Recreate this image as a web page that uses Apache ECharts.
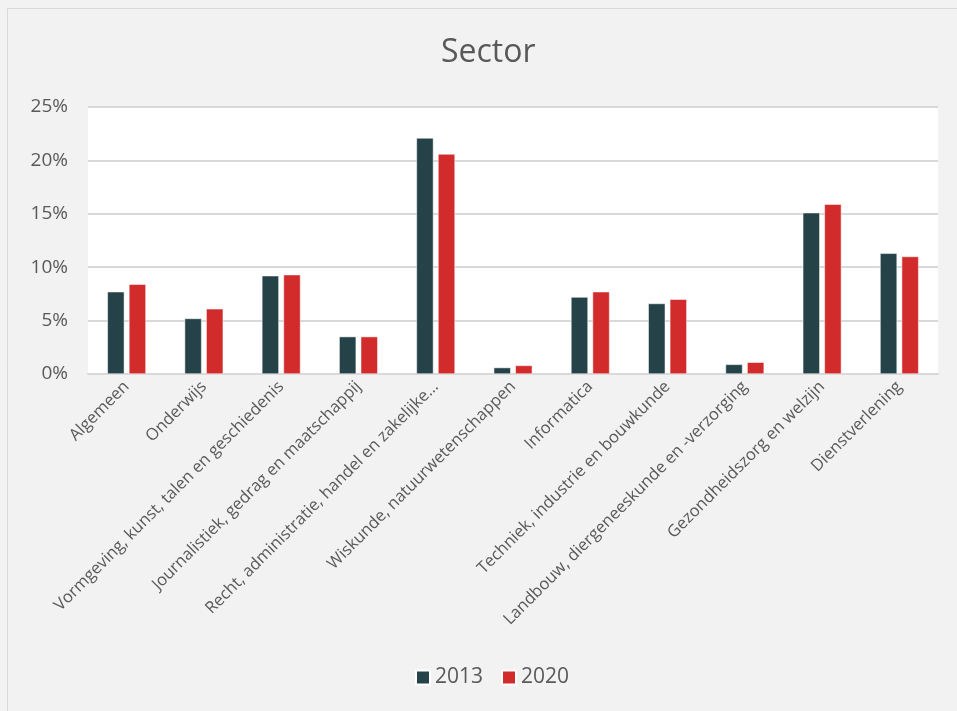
<!DOCTYPE html>
<html>
<head>
<meta charset="UTF-8">
<title>Sector</title>
<style>
  html, body { margin: 0; padding: 0; background: #f2f2f2; }
  #chart { width: 957px; height: 711px; }
</style>
</head>
<body>
<div id="chart"></div>
<script src="https://cdn.jsdelivr.net/npm/echarts@6/dist/echarts.min.js"></script>
<script>
var categories = ['Algemeen', 'Onderwijs', 'Vormgeving, kunst, talen en geschiedenis',
  'Journalistiek, gedrag en maatschappij', 'Recht, administratie, handel en zakelijke…',
  'Wiskunde, natuurwetenschappen', 'Informatica', 'Techniek, industrie en bouwkunde',
  'Landbouw, diergeneeskunde en -verzorging', 'Gezondheidszorg en welzijn', 'Dienstverlening'];
var values2013 = [7.7, 5.2, 9.2, 3.5, 22.1, 0.6, 7.2, 6.6, 0.9, 15.1, 11.3];
var values2020 = [8.4, 6.1, 9.3, 3.5, 20.6, 0.8, 7.7, 7.0, 1.1, 15.9, 11.0];
var yTicks = [0, 5, 10, 15, 20, 25];

var textColor = '#595959';
var font = 'Open Sans';

var chart = echarts.init(document.getElementById('chart'));
chart.setOption({
  backgroundColor: '#f2f2f2',
  textStyle: { fontFamily: font },
  graphic: [{
    type: 'rect', z: -1,
    shape: { x: 7.5, y: 8.5, width: 980, height: 720 },
    style: { fill: 'none', stroke: '#d9d9d9', lineWidth: 1 }
  }],
  title: {
    text: 'Sector', left: 436, top: 32,
    textStyle: { color: textColor, fontSize: 32, fontWeight: 'normal', fontFamily: font }
  },
  legend: {
    bottom: 18, left: 410, itemWidth: 14, itemHeight: 14, itemGap: 18,
    icon: 'rect',
    textStyle: { color: textColor, fontSize: 21, fontFamily: font }
  },
  grid: {
    left: 88, right: 19, top: 107, bottom: 337,
    show: true, backgroundColor: '#ffffff', borderWidth: 0
  },
  xAxis: {
    type: 'category', data: categories,
    axisLine: { lineStyle: { color: '#d9d9d9', width: 2 } },
    axisTick: { show: false },
    axisLabel: { rotate: 45, interval: 0, color: textColor, fontSize: 16.5, margin: 10, fontFamily: font }
  },
  yAxis: {
    type: 'value', min: yTicks[0], max: yTicks[yTicks.length - 1], interval: 5,
    axisLine: { show: false }, axisTick: { show: false },
    axisLabel: { formatter: '{value}%', color: textColor, fontSize: 19, margin: 20, fontFamily: font },
    splitLine: { lineStyle: { color: '#d9d9d9', width: 2 } }
  },
  series: [
    { name: '2013', type: 'bar', data: values2013, barWidth: 17, barGap: '27%',
      itemStyle: { color: '#264249', borderColor: '#ffffff', borderWidth: 0.5 } },
    { name: '2020', type: 'bar', data: values2020, barWidth: 17,
      itemStyle: { color: '#d22b2b', borderColor: '#ffffff', borderWidth: 0.5 } }
  ]
});
</script>
</body>
</html>
